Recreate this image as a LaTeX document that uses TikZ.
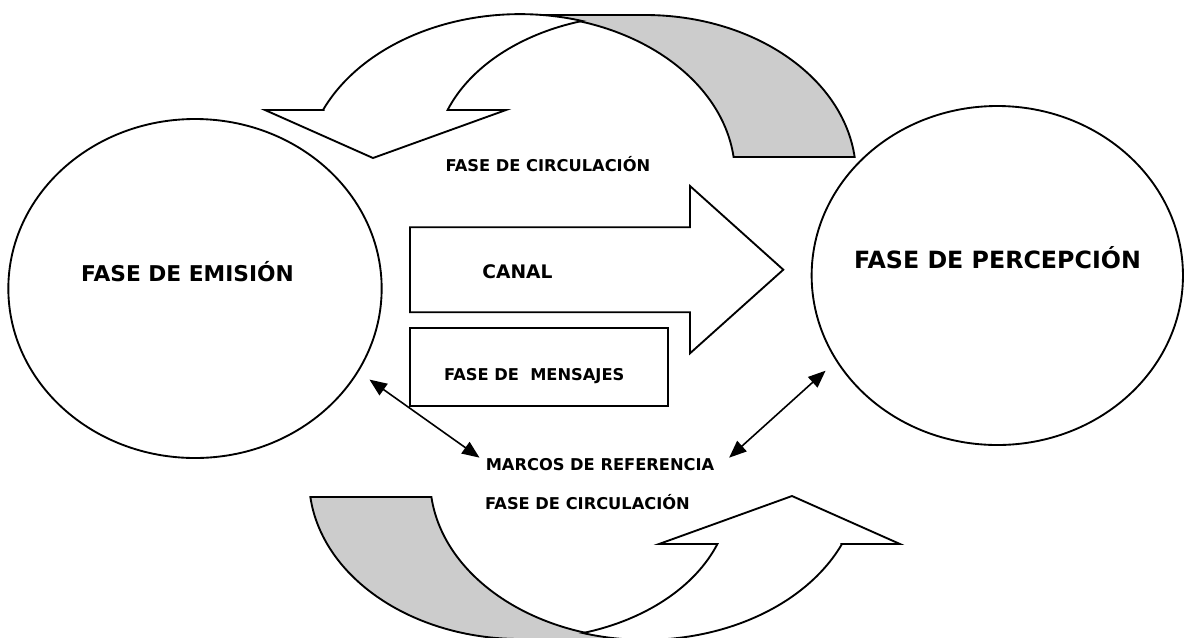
\documentclass[tikz,border=0pt]{standalone}
\usepackage{fontspec}
\setmainfont{DejaVu Sans}
\usetikzlibrary{arrows.meta,shapes.geometric}

\tikzset{
  contorno/.style={draw, line width=1.4pt},
  sombra/.style={contorno, fill={rgb, 255:red, 204; green, 204; blue, 204}},
  frente/.style={contorno, fill=white},
  fase/.style={ellipse, draw, line width=1.4pt, inner sep=0pt, minimum height=254.25pt},
  rotulo/.style={anchor=base, inner sep=0pt, font=\bfseries\fontsize{12.2}{14}\selectfont},
  doble/.style={{Triangle[length=13pt,width=10.5pt]}-{Triangle[length=13pt,width=10.5pt]}, line width=1.2pt},
}

\begin{document}
\begin{tikzpicture}[x=0.75pt,y=0.75pt,yscale=-1,xscale=1]
\useasboundingbox (0,0) rectangle (1185,637);

%Shape: Ellipse [emision]
\node[fase, minimum width=280pt] (emision) at (195,288.5) {};
%Shape: Ellipse [percepcion]
\node[fase, minimum width=278.5pt] (percepcion) at (997.3,275.5) {};

%Shape: Curved Down Arrow [arriba] - back band
\draw[sombra] (645,15) arc[start angle=-90, end angle=-6.46, x radius=211, y radius=160] -- (733.6,157) arc[start angle=-6.46, end angle=-90, x radius=215, y radius=160] -- cycle;
%Shape: Curved Down Arrow [arriba] - front band
\draw[frente] (323.6,110) -- (265,110) -- (373,158) -- (506,110) -- (447.6,110) arc[start angle=-159.8, end angle=-106.4, x radius=205, y radius=145] arc[start angle=-73.2, end angle=-156, x radius=215, y radius=160] -- cycle;

%Shape: Curved Up Arrow [abajo], same arrow turned round
\begin{scope}[rotate around={180:(582.5,327)}]
\draw[sombra] (645,15) arc[start angle=-90, end angle=-6.46, x radius=211, y radius=160] -- (733.6,157) arc[start angle=-6.46, end angle=-90, x radius=215, y radius=160] -- cycle;
\draw[frente] (323.6,110) -- (265,110) -- (373,158) -- (506,110) -- (447.6,110) arc[start angle=-159.8, end angle=-106.4, x radius=205, y radius=145] arc[start angle=-73.2, end angle=-156, x radius=215, y radius=160] -- cycle;
\end{scope}

%Shape: Right Arrow [canal]
\draw[contorno] (410,227.3) -- (690,227.3) -- (690,186) -- (783.3,269.7) -- (690,353.3) -- (690,312.3) -- (410,312.3) -- cycle;
%Shape: Rectangle [mensajes]
\draw[contorno] (410,327.7) rectangle (668.3,406);

% Text Node
\node[rotulo, font=\bfseries\fontsize{16.3}{19}\selectfont] (temision) at (187.5,281.7) {FASE DE EMISIÓN};
% Text Node
\node[rotulo, font=\bfseries\fontsize{17.8}{21}\selectfont] (tpercepcion) at (997.5,268.3) {FASE DE PERCEPCIÓN};
% Text Node
\node[rotulo] (circarriba) at (547.9,171.7) {FASE DE CIRCULACIÓN};
% Text Node
\node[rotulo, font=\bfseries\fontsize{14}{17}\selectfont] (canal) at (517.5,278.3) {CANAL};
% Text Node
\node[rotulo] (mensajes) at (534.2,380) {FASE DE\ \ MENSAJES};
% Text Node
\node[rotulo] (marcos) at (600,470) {MARCOS DE REFERENCIA};
% Text Node
\node[rotulo] (circabajo) at (587.5,509.3) {FASE DE CIRCULACIÓN};

%Double Arrows
\draw[doble, shorten <=10pt] (emision.-27.3) -- ([xshift=-4.5pt]marcos.north west);
\draw[doble, shorten <=10.6pt] (percepcion.-152.7) -- ([xshift=11pt]marcos.north east);

\end{tikzpicture}
\end{document}
